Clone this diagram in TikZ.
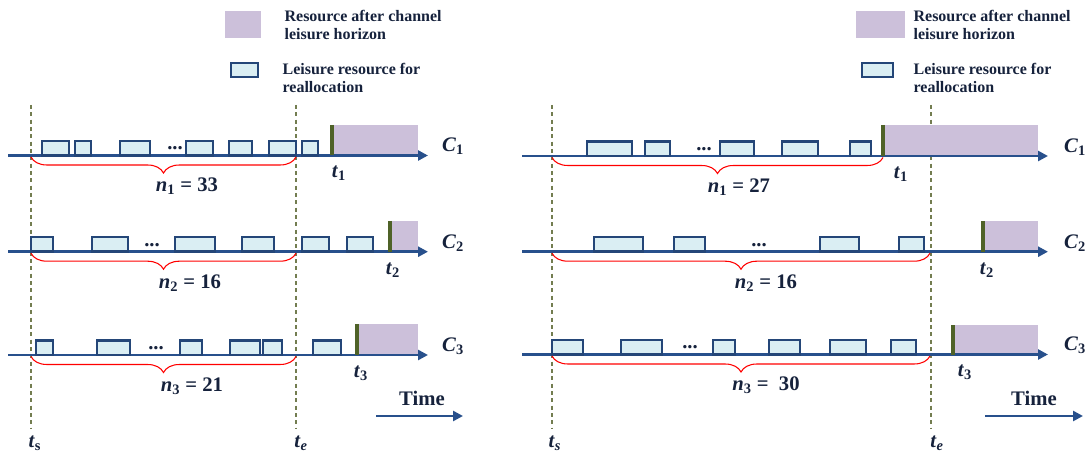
\documentclass[tikz,border=0pt]{standalone}
\usepackage{fontspec}
\setmainfont{Liberation Serif}
\usetikzlibrary{arrows.meta, decorations.pathreplacing}

\definecolor{axisblue}{RGB}{40,80,140}
\definecolor{boxline}{RGB}{36,70,120}
\definecolor{boxfill}{RGB}{218,238,243}
\definecolor{horizon}{RGB}{204,192,218}
\definecolor{gline}{RGB}{79,98,40}
\definecolor{dashol}{RGB}{115,125,80}
\definecolor{txt}{RGB}{22,34,60}

\newcommand{\lbl}[2]{\textit{#1}\textsubscript{#2}}

\begin{document}
\begin{tikzpicture}[
  x=0.75pt, y=-0.75pt,
  font=\bfseries\fontsize{15.5}{18}\selectfont,
  every node/.style={text=txt, inner sep=1pt},
  axis/.style={draw=axisblue, line width=2.1pt, -{Triangle[length=7.5pt, width=7.5pt]}},
  res/.style={draw=boxline, line width=1.9pt, fill=boxfill},
  hor/.style={fill=horizon},
  tmark/.style={draw=gline, line width=2.6pt},
  bound/.style={draw=dashol, line width=0.8pt, dash pattern=on 3pt off 2.5pt},
  cnt/.style={draw=red, line width=0.8pt, decorate,
              decoration={brace, mirror, amplitude=12pt}},
  legtext/.style={font=\bfseries\fontsize{12}{14}\selectfont, align=left, anchor=west},
  dots/.style={inner sep=0pt}
]
\useasboundingbox (0,0) rectangle (1089,456);

% legends
\fill[horizon] (225,11) rectangle (261,38);
\node[legtext] (legHL) at (283,25) {Resource after channel\\leisure horizon};
\draw[res] (231,63) rectangle (258,77);
\node[legtext] (legRL) at (281,78) {Leisure resource for\\reallocation};
\fill[horizon] (856,11) rectangle (905,38);
\node[legtext] (legHR) at (912,25) {Resource after channel\\leisure horizon};
\draw[res] (862,63) rectangle (893,77);
\node[legtext] (legRR) at (912,78) {Leisure resource for\\reallocation};

% window bounds
\coordinate (Ls0) at (31,105);  \coordinate (Ls1) at (31,428);
\coordinate (Le0) at (296,105); \coordinate (Le1) at (296,428);
\coordinate (Rs0) at (552,105); \coordinate (Rs1) at (552,428);
\coordinate (Re0) at (931,105); \coordinate (Re1) at (931,428);
\draw[bound] (Ls0) -- (Ls1);
\draw[bound] (Le0) -- (Le1);
\draw[bound] (Rs0) -- (Rs1);
\draw[bound] (Re0) -- (Re1);

% left panel rows
\foreach \k/\y/\hx/\hy/\tx/\dx/\nx/\num/\boxes in {
  1/155.5/332/125/339/175/187/33/{42/69,75/91,120/150,186/213,229/252,269/296,302/318},
  2/251.7/390/221/393/152/190/16/{31/53,92/128,175/215,242/274,302/329,347/373},
  3/355/357/324/361/156/192/21/{36/53,97/130,180/202,230/260,263/282,313/341}}{
  \fill[hor] (\hx,\hy) rectangle (418,\y);
  \coordinate (La\k) at (8,\y);
  \coordinate (Lb\k) at (428,\y);
  \draw[axis] (La\k) -- (Lb\k);
  \foreach \xa/\xb in \boxes
    \draw[res] (\xa,\y-14.5) rectangle (\xb,\y);
  \draw[tmark] (\hx,\hy) -- (\hx,\y);
  \node[dots] (Ld\k) at (\dx,\y-7) {...};
  \draw[cnt] (31,\y+1.5) -- (296,\y+1.5);
  \node (Ln\k) at (\nx,\y+31) {\lbl{n}{\k} = \num};
  \node (Lt\k) at (\tx,\y+18) {\lbl{t}{\k}};
  \node (Lc\k) at (453,\y-9) {\lbl{C}{\k}};
}

% right panel rows
\foreach \k/\y/\hx/\hy/\tx/\dx/\nx/\num/\bx/\boxes in {
  1/156/883/125/901/704/739/27/883/{587/632,645/670,720/754,782/818,850/871},
  2/251.7/983/221/987/759/766/16/930/{594/643,674/705,820/859,899/924},
  3/354.5/953/325/965/690/766/{\ 30}/930/{552/583,621/662,713/735,769/800,830/866,891/916}}{
  \fill[hor] (\hx,\hy) rectangle (1038,\y);
  \coordinate (Ra\k) at (522,\y);
  \coordinate (Rb\k) at (1048,\y);
  \draw[axis] (Ra\k) -- (Rb\k);
  \foreach \xa/\xb in \boxes
    \draw[res] (\xa,\y-14.5) rectangle (\xb,\y);
  \draw[tmark] (\hx,\hy) -- (\hx,\y);
  \node[dots] (Rd\k) at (\dx,\y-7) {...};
  \draw[cnt] (552,\y+1.5) -- (\bx,\y+1.5);
  \node (Rn\k) at (\nx,\y+31) {\lbl{n}{\k} = \num};
  \node (Rt\k) at (\tx,\y+18) {\lbl{t}{\k}};
  \node (Rc\k) at (1075,\y-9) {\lbl{C}{\k}};
}

% time arrows and window labels
\node (timeL) at (422,398) {Time};
\coordinate (tL0) at (376,416); \coordinate (tL1) at (463,416);
\draw[axis] (tL0) -- (tL1);
\node (timeR) at (1034,398) {Time};
\coordinate (tR0) at (985,416); \coordinate (tR1) at (1083,416);
\draw[axis] (tR0) -- (tR1);

\node (tsL) at (35,443) {\lbl{t}{s}};
\node (teL) at (301,443) {\lbl{t}{\textit{e}}};
\node (tsR) at (555,443) {\lbl{t}{\textit{s}}};
\node (teR) at (937,443) {\lbl{t}{\textit{e}}};
\end{tikzpicture}
\end{document}
